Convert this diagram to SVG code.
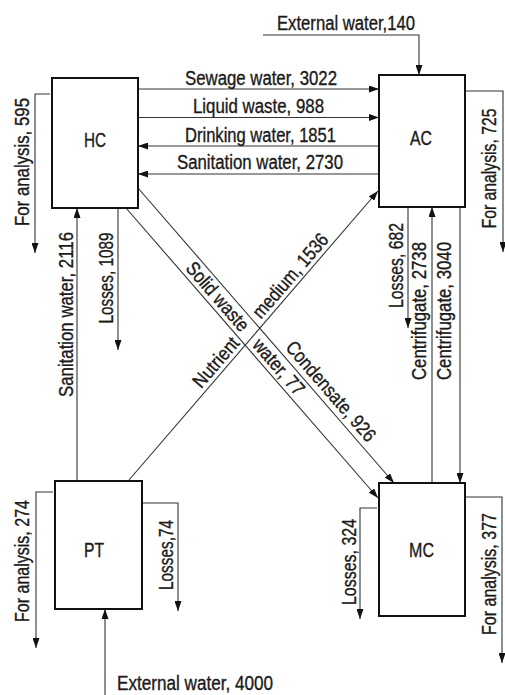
<svg xmlns="http://www.w3.org/2000/svg" width="505" height="695" viewBox="0 0 505 695">
<defs>
<style>
text{font-family:"Liberation Sans",Arial,sans-serif;font-size:19.5px;fill:#1a1a1a;stroke:#1a1a1a;stroke-width:0.35}
.box{fill:#fff;stroke:#111;stroke-width:2}
.c{fill:none;stroke:#333;stroke-width:1.1}
.m{text-anchor:middle}
</style>
<marker id="ah" viewBox="0 0 10 7" refX="10" refY="3.5" markerWidth="10" markerHeight="7" markerUnits="userSpaceOnUse" orient="auto"><path d="M0,0 L10,3.5 L0,7 z" fill="#111"/></marker>
</defs>
<rect width="505" height="695" fill="#fff"/>
<g id="connectors">
<line class="c" x1="138" y1="89" x2="379" y2="89" marker-end="url(#ah)"/>
<line class="c" x1="138" y1="117.5" x2="379" y2="117.5" marker-end="url(#ah)"/>
<line class="c" x1="379" y1="146" x2="138" y2="146" marker-end="url(#ah)"/>
<line class="c" x1="379" y1="174" x2="138" y2="174" marker-end="url(#ah)"/>
<polyline class="c" points="263,35 419,35 419,75" marker-end="url(#ah)"/>
<polyline class="c" points="50,94 35,94 35,253" marker-end="url(#ah)"/>
<line class="c" x1="118" y1="208" x2="118" y2="350" marker-end="url(#ah)"/>
<line class="c" x1="77" y1="481" x2="77" y2="208" marker-end="url(#ah)"/>
<line class="c" x1="129" y1="480" x2="378" y2="191" marker-end="url(#ah)"/>
<line class="c" x1="126" y1="208" x2="378" y2="498" marker-end="url(#ah)"/>
<line class="c" x1="138" y1="188" x2="394" y2="483" marker-end="url(#ah)"/>
<polyline class="c" points="465,91 503,91 503,252" marker-end="url(#ah)"/>
<line class="c" x1="408" y1="207" x2="408" y2="328" marker-end="url(#ah)"/>
<line class="c" x1="432" y1="483" x2="432" y2="207" marker-end="url(#ah)"/>
<line class="c" x1="460" y1="207" x2="460" y2="483" marker-end="url(#ah)"/>
<polyline class="c" points="53,492 36,492 36,648" marker-end="url(#ah)"/>
<polyline class="c" points="142,503 178,503 178,611" marker-end="url(#ah)"/>
<line class="c" x1="105" y1="695" x2="105" y2="609" marker-end="url(#ah)"/>
<polyline class="c" points="377,508 360,508 360,619" marker-end="url(#ah)"/>
<polyline class="c" points="465,497 502,497 502,663" marker-end="url(#ah)"/>
</g>
<g id="HC"><rect class="box" x="52" y="78" width="86" height="130"/><text class="m" x="95" y="147" textLength="22" lengthAdjust="spacingAndGlyphs">HC</text></g>
<g id="AC"><rect class="box" x="379" y="75" width="86" height="132"/><text class="m" x="421" y="145" textLength="22" lengthAdjust="spacingAndGlyphs">AC</text></g>
<g id="PT"><rect class="box" x="55" y="481" width="87" height="128"/><text class="m" x="94" y="557" textLength="20" lengthAdjust="spacingAndGlyphs">PT</text></g>
<g id="MC"><rect class="box" x="379" y="483" width="86" height="133"/><text class="m" x="421.5" y="557" textLength="25" lengthAdjust="spacingAndGlyphs">MC</text></g>
<g id="labels">
<text class="m" x="261" y="85" textLength="152" lengthAdjust="spacingAndGlyphs">Sewage water, 3022</text>
<text class="m" x="258.5" y="112.5" textLength="131" lengthAdjust="spacingAndGlyphs">Liquid waste, 988</text>
<text class="m" x="260.5" y="141.5" textLength="151" lengthAdjust="spacingAndGlyphs">Drinking water, 1851</text>
<text class="m" x="260" y="169" textLength="166" lengthAdjust="spacingAndGlyphs">Sanitation water, 2730</text>
<text x="277" y="30" textLength="138" lengthAdjust="spacingAndGlyphs">External water,140</text>
<text x="117" y="690" textLength="156" lengthAdjust="spacingAndGlyphs">External water, 4000</text>
<text class="m" transform="translate(29,162) rotate(-90)" textLength="128" lengthAdjust="spacingAndGlyphs">For analysis, 595</text>
<text class="m" transform="translate(73,314.5) rotate(-90)" textLength="165" lengthAdjust="spacingAndGlyphs">Sanitation water, 2116</text>
<text class="m" transform="translate(113,278) rotate(-90)" textLength="91" lengthAdjust="spacingAndGlyphs">Losses, 1089</text>
<text class="m" transform="translate(403,265.5) rotate(-90)" textLength="85" lengthAdjust="spacingAndGlyphs">Losses, 682</text>
<text class="m" transform="translate(426,311) rotate(-90)" textLength="138" lengthAdjust="spacingAndGlyphs">Centrifugate, 2738</text>
<text class="m" transform="translate(451,311) rotate(-90)" textLength="138" lengthAdjust="spacingAndGlyphs">Centrifugate, 3040</text>
<text class="m" transform="translate(496,168.5) rotate(-90)" textLength="120" lengthAdjust="spacingAndGlyphs">For analysis, 725</text>
<text class="m" transform="translate(28.5,561) rotate(-90)" textLength="122" lengthAdjust="spacingAndGlyphs">For analysis, 274</text>
<text class="m" transform="translate(173,555) rotate(-90)" textLength="70" lengthAdjust="spacingAndGlyphs">Losses,74</text>
<text class="m" transform="translate(356,562) rotate(-90)" textLength="86" lengthAdjust="spacingAndGlyphs">Losses, 324</text>
<text class="m" transform="translate(496,574) rotate(-90)" textLength="122" lengthAdjust="spacingAndGlyphs">For analysis, 377</text>
<text class="m" transform="translate(220.9,366.5) rotate(-49.25)" textLength="60" lengthAdjust="spacingAndGlyphs">Nutrient</text>
<text class="m" transform="translate(295.3,280.1) rotate(-49.25)" textLength="105" lengthAdjust="spacingAndGlyphs">medium, 1536</text>
<text class="m" transform="translate(212.7,300.9) rotate(49)" textLength="85" lengthAdjust="spacingAndGlyphs">Solid waste</text>
<text class="m" transform="translate(273.7,371.1) rotate(49)" textLength="68" lengthAdjust="spacingAndGlyphs">water, 77</text>
<text class="m" transform="translate(326,395.6) rotate(49.05)" textLength="126" lengthAdjust="spacingAndGlyphs">Condensate, 926</text>
</g>
</svg>
